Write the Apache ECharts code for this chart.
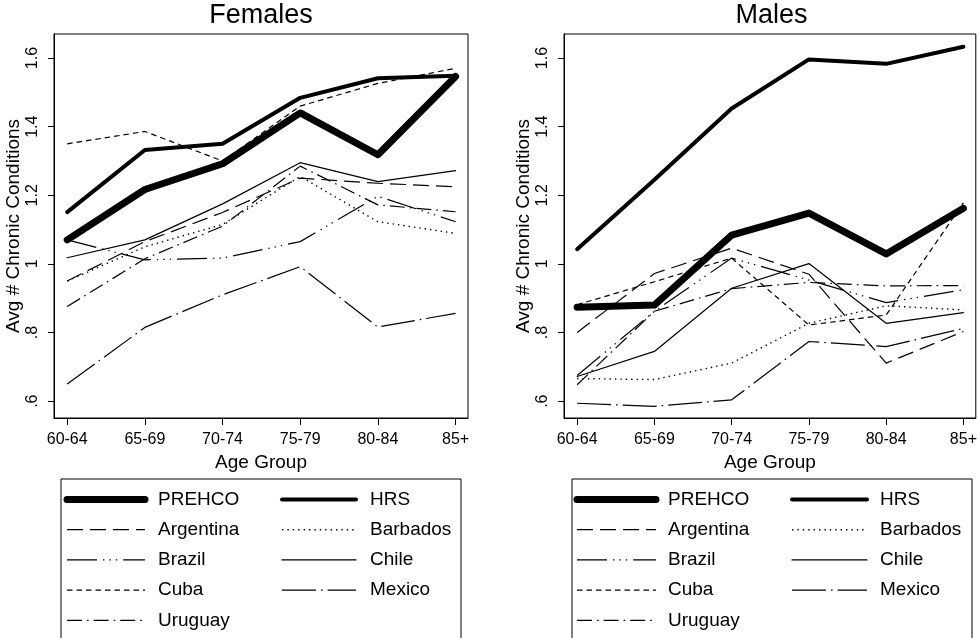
<!DOCTYPE html>
<html>
<head>
<meta charset="utf-8">
<script src="https://cdn.jsdelivr.net/npm/echarts@6/dist/echarts.min.js"></script>
<style>
  html, body { margin: 0; padding: 0; background: #fff; }
  #chart { width: 980px; height: 638px; }
</style>
</head>
<body>
<div id="chart"></div>
<script>
// Age groups on the horizontal axis
const ageGroups = ['60-64', '65-69', '70-74', '75-79', '80-84', '85+'];
// Vertical tick positions and their printed labels
const yTicks = [0.6, 0.8, 1.0, 1.2, 1.4, 1.6];
const yTickLabels = ['.6', '.8', '1', '1.2', '1.4', '1.6'];

const seriesNames = ['PREHCO', 'HRS', 'Argentina', 'Barbados', 'Brazil', 'Chile', 'Cuba', 'Mexico', 'Uruguay'];

// Average number of chronic conditions, females
const femPREHCO    = [1.070, 1.217, 1.292, 1.440, 1.318, 1.546];
const femHRS       = [1.151, 1.332, 1.350, 1.484, 1.541, 1.548];
const femArgentina = [0.950, 1.065, 1.150, 1.250, 1.235, 1.225];
const femBarbados  = [0.950, 1.050, 1.115, 1.255, 1.123, 1.089];
const femBrazil    = [1.070, 1.012, 1.017, 1.065, 1.197, 1.123];
const femChile     = [1.018, 1.070, 1.175, 1.295, 1.240, 1.272];
const femCuba      = [1.350, 1.386, 1.300, 1.460, 1.526, 1.570];
const femMexico    = [0.650, 0.815, 0.910, 0.992, 0.816, 0.856];
const femUruguay   = [0.876, 1.015, 1.110, 1.285, 1.172, 1.152];

// Average number of chronic conditions, males
const malPREHCO    = [0.874, 0.880, 1.084, 1.148, 1.029, 1.162];
const malHRS       = [1.043, 1.245, 1.453, 1.596, 1.583, 1.633];
const malArgentina = [0.800, 0.972, 1.046, 0.970, 0.711, 0.803];
const malBarbados  = [0.666, 0.663, 0.711, 0.827, 0.878, 0.866];
const malBrazil    = [0.675, 0.862, 1.017, 0.953, 0.887, 0.925];
const malChile     = [0.672, 0.745, 0.929, 1.001, 0.827, 0.858];
const malCuba      = [0.881, 0.948, 1.017, 0.822, 0.851, 1.178];
const malMexico    = [0.594, 0.585, 0.604, 0.774, 0.759, 0.812];
const malUruguay   = [0.648, 0.862, 0.928, 0.946, 0.936, 0.937];

const femData = [femPREHCO, femHRS, femArgentina, femBarbados, femBrazil, femChile, femCuba, femMexico, femUruguay];
const malData = [malPREHCO, malHRS, malArgentina, malBarbados, malBrazil, malChile, malCuba, malMexico, malUruguay];

// Line pattern for each series (width, dash array)
const lineStyles = {
  PREHCO:    { width: 7,   dash: null },
  HRS:       { width: 4,   dash: null },
  Argentina: { width: 1.2, dash: [16, 7] },
  Barbados:  { width: 1.4, dash: [1.4, 4] },
  Brazil:    { width: 1.2, dash: [30, 6, 1.4, 5, 1.4, 5, 1.4, 6] },
  Chile:     { width: 1.2, dash: null },
  Cuba:      { width: 1.2, dash: [5.5, 4] },
  Mexico:    { width: 1.2, dash: [34, 5, 1.6, 5] },
  Uruguay:   { width: 1.2, dash: [15, 5, 1.6, 5] }
};

const FONT = '"Liberation Sans", Arial, Helvetica, sans-serif';
const panels = [
  { title: 'Females', left: 54, width: 414, data: femData, legendBox: [61, 400], col: [[67, 145, 158], [282, 356, 370]] },
  { title: 'Males',   left: 564, width: 415, data: malData, legendBox: [572, 400], col: [[577, 656, 668], [792, 867, 880]] }
];
const TOP = 34, HEIGHT = 384;

const grids = [], xAxes = [], yAxes = [], series = [], titles = [], graphics = [];

panels.forEach((p, gi) => {
  grids.push({
    left: p.left, top: TOP, width: p.width, height: HEIGHT,
    show: true, borderColor: '#000', borderWidth: 1, backgroundColor: '#fff'
  });
  xAxes.push({
    gridIndex: gi, type: 'value', min: -0.17, max: 5.16, position: 'bottom',
    name: 'Age Group', nameLocation: 'middle', nameGap: 27,
    nameTextStyle: { fontFamily: FONT, fontSize: 19, color: '#000' },
    axisLine: { show: true, onZero: false, lineStyle: { color: '#000', width: 1 } },
    axisTick: { show: true, inside: false, length: 7, customValues: [0, 1, 2, 3, 4, 5], lineStyle: { color: '#000', width: 1 } },
    axisLabel: {
      customValues: [0, 1, 2, 3, 4, 5], margin: 14,
      formatter: v => ageGroups[Math.round(v)],
      fontFamily: FONT, fontSize: 16, color: '#000'
    },
    splitLine: { show: false }
  });
  yAxes.push({
    gridIndex: gi, type: 'value', min: 0.551, max: 1.670, position: 'left',
    name: 'Avg # Chronic Conditions', nameLocation: 'middle', nameGap: 31, nameRotate: 90,
    nameTextStyle: { fontFamily: FONT, fontSize: 19, color: '#000' },
    axisLine: { show: true, onZero: false, lineStyle: { color: '#000', width: 1 } },
    axisTick: { show: true, inside: false, length: 6, customValues: yTicks, lineStyle: { color: '#000', width: 1 } },
    axisLabel: {
      customValues: yTicks, rotate: 90, margin: 13,
      formatter: v => yTickLabels[yTicks.findIndex(t => Math.abs(t - v) < 1e-6)],
      fontFamily: FONT, fontSize: 16, color: '#000'
    },
    splitLine: { show: false }
  });
  titles.push({
    text: p.title, left: p.left + p.width / 2, top: 2, textAlign: 'center', padding: 0,
    textStyle: { fontFamily: FONT, fontSize: 27, fontWeight: 'normal', color: '#000' }
  });

  // thin series first, heavy series on top
  const order = [2, 3, 4, 5, 6, 7, 8, 1, 0];
  order.forEach(si => {
    const name = seriesNames[si];
    const st = lineStyles[name];
    series.push({
      name: name, type: 'line', xAxisIndex: gi, yAxisIndex: gi,
      data: p.data[si].map((v, i) => [i, v]),
      showSymbol: false, symbol: 'none', silent: true, animation: false,
      lineStyle: {
        color: '#000', width: st.width, type: st.dash || 'solid',
        cap: st.dash ? 'butt' : 'round', join: 'round'
      }
    });
  });

  // Legend box with line samples, two columns
  const boxTop = 479, rowH = 30.2, firstRow = 499.5;
  graphics.push({
    type: 'rect', shape: { x: p.legendBox[0], y: boxTop, width: p.legendBox[1], height: 200 },
    style: { fill: '#fff', stroke: '#000', lineWidth: 1 }, z: 10
  });
  seriesNames.forEach((name, k) => {
    const row = Math.floor(k / 2), c = p.col[k % 2];
    const y = firstRow + row * rowH;
    const st = lineStyles[name];
    graphics.push({
      type: 'line', shape: { x1: c[0], y1: y, x2: c[1], y2: y },
      style: {
        stroke: '#000', lineWidth: st.width, lineDash: st.dash || null,
        lineCap: st.dash ? 'butt' : 'round'
      }, z: 11
    });
    graphics.push({
      type: 'text', x: c[2], y: y,
      style: { text: name, fill: '#000', font: '19px ' + FONT, textVerticalAlign: 'middle', verticalAlign: 'middle' },
      z: 11
    });
  });
});

const chart = echarts.init(document.getElementById('chart'), null, { renderer: 'canvas' });
chart.setOption({
  animation: false,
  backgroundColor: '#fff',
  title: titles,
  grid: grids,
  xAxis: xAxes,
  yAxis: yAxes,
  series: series,
  graphic: graphics
});
</script>
</body>
</html>
